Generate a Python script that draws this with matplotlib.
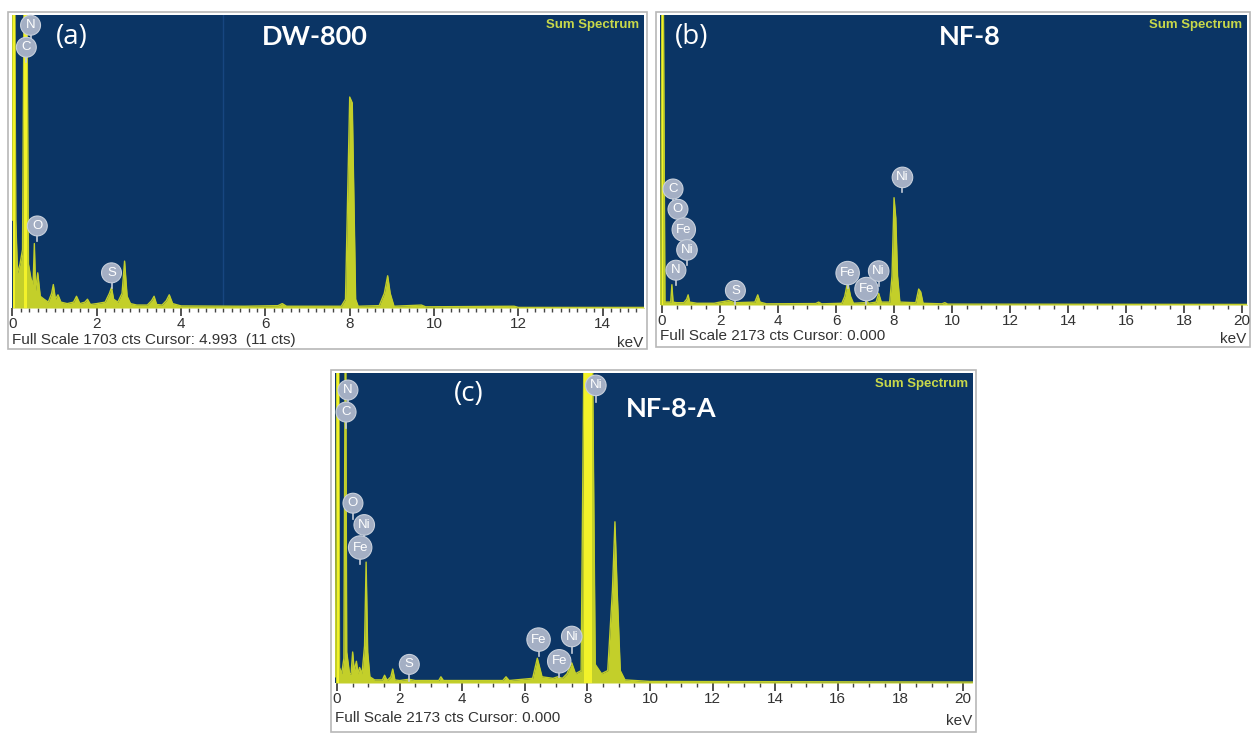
import numpy as np
import matplotlib
matplotlib.use("Agg")
import matplotlib.pyplot as plt
from matplotlib.patches import Rectangle
from matplotlib.ticker import MultipleLocator

plt.rcParams["font.family"] = ["Liberation Sans", "DejaVu Sans"]

W, H = 1253, 734

# ---- spectra (energy in keV, counts as fraction of full scale)
e_a = [0.0, 0.01, 0.05, 0.08, 0.12, 0.18, 0.24, 0.28, 0.34, 0.38, 0.44, 0.49, 0.52, 0.55, 0.60,
       0.66, 0.75, 0.85, 0.93, 0.97, 1.02, 1.08, 1.15, 1.30, 1.45, 1.52, 1.60, 1.72, 1.78, 1.85,
       2.0, 2.2, 2.3, 2.35, 2.4, 2.5, 2.6, 2.66, 2.72, 2.8, 2.95, 3.2, 3.3, 3.36, 3.42, 3.55,
       3.65, 3.72, 3.8, 4.0, 5.5, 6.3, 6.4, 6.5, 7.8, 7.9, 8.0, 8.06, 8.14, 8.2, 8.7, 8.82,
       8.9, 8.96, 9.05, 9.7, 9.8, 11.9, 12.0, 15.0]
c_a = [0.30, 1.2, 1.2, 0.30, 0.12, 0.15, 0.20, 1.2, 1.2, 0.15, 0.10, 0.08, 0.22, 0.06, 0.12,
       0.04, 0.03, 0.02, 0.05, 0.08, 0.03, 0.045, 0.02, 0.015, 0.02, 0.04, 0.015, 0.02, 0.03, 0.012,
       0.015, 0.02, 0.05, 0.07, 0.03, 0.02, 0.05, 0.16, 0.04, 0.015, 0.01, 0.01, 0.025, 0.04, 0.012, 0.01,
       0.025, 0.045, 0.015, 0.007, 0.006, 0.008, 0.015, 0.006, 0.006, 0.03, 0.72, 0.70, 0.03, 0.006, 0.008, 0.05,
       0.11, 0.05, 0.006, 0.01, 0.004, 0.006, 0.002, 0.002]

e_b = [-0.05, 0.0, 0.04, 0.1, 0.3, 0.34, 0.38, 0.5, 0.75, 0.85, 0.9, 0.95, 1.2, 1.8, 2.0, 2.3, 2.5,
       3.2, 3.3, 3.38, 3.6, 5.3, 5.4, 5.5, 6.2, 6.3, 6.4, 6.5, 6.6, 7.0, 7.06, 7.12, 7.38, 7.47,
       7.56, 7.85, 7.93, 8.0, 8.06, 8.12, 8.2, 8.75, 8.85, 8.92, 9.0, 9.65, 9.75, 9.85, 20.3]
c_b = [0.0, 1.2, 1.2, 0.01, 0.01, 0.07, 0.01, 0.008, 0.008, 0.02, 0.035, 0.01, 0.006, 0.006, 0.01, 0.015, 0.008,
       0.01, 0.035, 0.01, 0.004, 0.005, 0.01, 0.004, 0.006, 0.03, 0.08, 0.03, 0.006, 0.008, 0.015, 0.006, 0.01, 0.04,
       0.01, 0.01, 0.1, 0.37, 0.30, 0.1, 0.01, 0.008, 0.055, 0.045, 0.006, 0.004, 0.008, 0.003, 0.002]

e_c = [-0.05, 0.0, 0.05, 0.08, 0.15, 0.22, 0.26, 0.28, 0.31, 0.4, 0.45, 0.5, 0.55, 0.62, 0.67, 0.72,
       0.8, 0.88, 0.93, 0.98, 1.05, 1.2, 1.45, 1.52, 1.6, 1.72, 1.78, 1.85, 2.0, 2.3, 2.5, 3.25, 3.32,
       3.4, 5.3, 5.4, 5.5, 6.25, 6.4, 6.55, 6.9, 7.05, 7.2, 7.35, 7.5, 7.62, 7.8, 7.9, 8.15, 8.25,
       8.45, 8.65, 8.8, 8.88, 8.95, 9.05, 9.2, 10.0, 20.3]
c_c = [0.02, 1.2, 1.2, 0.05, 0.03, 0.08, 1.05, 1.05, 0.1, 0.03, 0.03, 0.1, 0.04, 0.07, 0.03, 0.05,
       0.03, 0.12, 0.39, 0.1, 0.02, 0.01, 0.01, 0.025, 0.008, 0.02, 0.045, 0.01, 0.008, 0.012, 0.008, 0.008, 0.02,
       0.008, 0.008, 0.02, 0.008, 0.015, 0.08, 0.02, 0.015, 0.02, 0.015, 0.03, 0.065, 0.03, 0.04, 1.2, 1.2, 0.06,
       0.03, 0.04, 0.3, 0.52, 0.3, 0.04, 0.01, 0.005, 0.003]

# element markers: (symbol, energy, height)
lab_a = [("N", 0.43, 0.965), ("C", 0.33, 0.89), ("O", 0.59, 0.28), ("S", 2.35, 0.12)]
lab_b = [("C", 0.38, 0.40), ("O", 0.55, 0.33), ("Fe", 0.75, 0.26), ("Ni", 0.86, 0.19),
         ("N", 0.48, 0.12), ("S", 2.53, 0.05), ("Fe", 6.4, 0.11), ("Fe", 7.05, 0.055),
         ("Ni", 7.47, 0.117), ("Ni", 8.29, 0.44)]
lab_c = [("N", 0.35, 0.945), ("C", 0.29, 0.874), ("O", 0.51, 0.58), ("Ni", 0.87, 0.51),
         ("Fe", 0.74, 0.437), ("S", 2.31, 0.06), ("Fe", 6.44, 0.14), ("Fe", 7.1, 0.07),
         ("Ni", 7.5, 0.15), ("Ni", 8.27, 0.96)]

panels = [
    dict(box=(12, 15, 644, 308), frame=(8, 12, 647, 349), xlim=(-0.01, 14.98), minor=0.2,
         e=e_a, c=c_a, labs=lab_a, tag="(a)", name="DW-800", tag_xy=(56, 37), name_xy=(262, 37),
         foot="Full Scale 1703 cts Cursor: 4.993  (11 cts)", foot_y=340, cursor=4.993),
    dict(box=(660, 15, 1247, 305), frame=(656, 12, 1250, 347), xlim=(-0.07, 20.17), minor=0.5,
         e=e_b, c=c_b, labs=lab_b, tag="(b)", name="NF-8", tag_xy=(675, 37), name_xy=(939, 37),
         foot="Full Scale 2173 cts Cursor: 0.000", foot_y=336, cursor=None),
    dict(box=(335, 373, 973, 683), frame=(331, 370, 976, 732), xlim=(-0.064, 20.32), minor=0.5,
         e=e_c, c=c_c, labs=lab_c, tag="(c)", name="NF-8-A", tag_xy=(454, 394), name_xy=(626, 409),
         foot="Full Scale 2173 cts Cursor: 0.000", foot_y=718, cursor=None),
]

blue = "#0b3565"
fill = "#c3cf2a"
bright = "#f2f22a"

fig = plt.figure(figsize=(W / 100, H / 100), dpi=100)
fig.patch.set_facecolor("white")

for p in panels:
    fx0, fy0, fx1, fy1 = p["frame"]
    fig.patches.append(Rectangle((fx0 / W, 1 - fy1 / H), (fx1 - fx0) / W, (fy1 - fy0) / H,
                                 transform=fig.transFigure, facecolor="none",
                                 edgecolor="#b8b8b8", lw=1.2, zorder=-5))
    x0, y0, x1, y1 = p["box"]
    ax = fig.add_axes([x0 / W, 1 - y1 / H, (x1 - x0) / W, (y1 - y0) / H])
    ax.set_facecolor(blue)
    for s in ax.spines.values():
        s.set_visible(False)
    ax.set_xlim(*p["xlim"])
    ax.set_ylim(0, 1)
    ax.set_yticks([])
    ax.xaxis.set_major_locator(MultipleLocator(2))
    ax.xaxis.set_minor_locator(MultipleLocator(p["minor"]))
    ax.tick_params(axis="x", which="major", direction="out", length=6, width=1.2,
                   color="#333333", labelsize=11, labelcolor="#333333", pad=0.5)
    ax.tick_params(axis="x", which="minor", direction="out", length=3, width=1, color="#444444")

    e = np.array(p["e"])
    c = np.array(p["c"])
    if p["cursor"] is not None:
        ax.axvline(p["cursor"], color="#174680", lw=1, zorder=1)
    ax.fill_between(e, 0, c, color=fill, lw=0, zorder=2)
    ax.plot(e, c, color=fill, lw=1, zorder=2)
    ax.fill_between(e, 0, c, where=c > 1.1, color=bright, lw=0, zorder=3)

    for sym, ex, ey in p["labs"]:
        ax.plot([ex, ex], [ey - 0.03, ey - 0.052], color="#c5ccd8", lw=1.2, zorder=4)
        ax.text(ex, ey, sym, ha="center", va="center", fontsize=9.5, color="white",
                zorder=5,
                bbox=dict(boxstyle="circle,pad=0.3", fc="#a4afc4", ec="#c8d0dc", lw=0.8))

    ax.text(0.992, 0.985, "Sum Spectrum", transform=ax.transAxes, ha="right", va="top",
            fontsize=9.5, color="#c8d84a", fontweight="bold")

    tx, ty = p["tag_xy"]
    fig.text(tx / W, 1 - ty / H, p["tag"], ha="left", va="center", fontsize=20,
             color="white", family="Open Sans")
    nx, ny = p["name_xy"]
    fig.text(nx / W, 1 - ny / H, p["name"], ha="left", va="center", fontsize=19.5,
             color="white", family="Lato", fontweight="bold")

    fig.text(x0 / W, 1 - p["foot_y"] / H, p["foot"], ha="left", va="center",
             fontsize=11, color="#333333")
    fig.text((x1 - 1) / W, 1 - (p["foot_y"] + 3) / H, "keV", ha="right", va="center",
             fontsize=11, color="#333333")

fig.savefig("out.png", dpi=100, facecolor="white")
